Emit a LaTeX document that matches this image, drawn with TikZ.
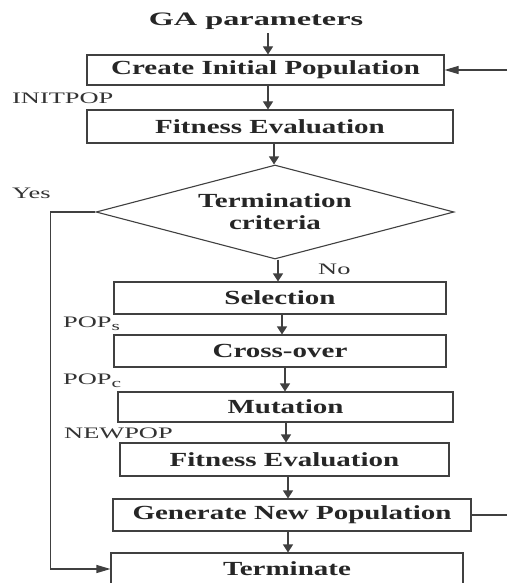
\documentclass[tikz,border=0pt]{standalone}
\usepackage{fontspec}
\setmainfont{Liberation Serif}
\newfontfamily\boxfont[FakeStretch=1.45]{Liberation Serif}
\newfontfamily\labfont[FakeStretch=1.65]{Liberation Serif}
\newfontfamily\gafont[FakeStretch=1.7]{Liberation Serif}
\usetikzlibrary{arrows.meta,shapes.geometric}
\newcommand{\subsc}[1]{\raisebox{-3pt}{\fontsize{13}{13}\selectfont #1}}
\begin{document}
\begin{tikzpicture}[x=1pt,y=-1pt,
  box/.style={draw=black!75, line width=1.1pt, rectangle, inner sep=0pt,
    font=\boxfont\bfseries\fontsize{20}{22}\selectfont, text=black!85},
  lab/.style={font=\labfont\fontsize{16}{18}\selectfont, text=black!80,
    inner sep=0pt, anchor=base west},
  conn/.style={draw=black!75, line width=1.1pt},
  varr/.style={conn, -{Triangle[length=8pt,width=10pt]}},
  harr/.style={conn, -{Triangle[length=14pt,width=8pt]}}]
\clip (0,0) rectangle (507,583);
\fill[white] (0,0) rectangle (507,583);
% title
\node[font=\gafont\bfseries\fontsize{19}{21}\selectfont, text=black!85,
  inner sep=0pt, anchor=base] (ga) at (256,26) {GA parameters};
% boxes
\node[box, minimum width=357pt, minimum height=30pt] (create) at (265.5,70) {Create Initial Population};
\node[box, minimum width=366pt, minimum height=33pt] (fit1) at (270,126.5) {Fitness Evaluation};
\node[box, diamond, aspect=3.8, minimum width=358pt, minimum height=94pt, align=center] (crit) at (275,212) {Termination\\criteria};
\node[box, minimum width=332pt, minimum height=32pt] (sel) at (280,298) {Selection};
\node[box, minimum width=332pt, minimum height=32pt] (cross) at (280,351) {Cross-over};
\node[box, minimum width=335pt, minimum height=30pt] (mut) at (285.5,407) {Mutation};
\node[box, minimum width=329pt, minimum height=33pt] (fit2) at (284.5,459.5) {Fitness Evaluation};
\node[box, minimum width=358pt, minimum height=32pt] (gen) at (292,515) {Generate New Population};
\node[box, minimum width=352pt, minimum height=32pt] (term) at (287,569) {Terminate};
% labels
\node[lab] (initpop) at (12,103.5) {INITPOP};
\node[lab] (yes) at (12,198) {Yes};
\node[lab] (no) at (318,274) {No};
\node[lab] (pops) at (63,327) {POP\subsc{s}};
\node[lab] (popc) at (63,384) {POP\subsc{c}};
\node[lab] (newpop) at (64,438) {NEWPOP};
% free ends
\coordinate (rin) at (507,70);
\coordinate (rout) at (507,515);
% connectors
\draw[varr] ([xshift=12pt,yshift=-3pt]ga.south) -- ([xshift=2.5pt]create.north);
\draw[varr] ([xshift=2.5pt]create.south) -- ([xshift=-2pt]fit1.north);
\draw[varr] ([xshift=4pt]fit1.south) -- ([xshift=-1pt]crit.north);
\draw[varr] ([xshift=3pt]crit.south) -- ([xshift=-2pt]sel.north);
\draw[varr] ([xshift=2pt]sel.south) -- ([xshift=2pt]cross.north);
\draw[varr] ([xshift=5pt]cross.south) -- ([xshift=-0.5pt]mut.north);
\draw[varr] ([xshift=0.5pt]mut.south) -- ([xshift=1.5pt]fit2.north);
\draw[varr] ([xshift=3.5pt]fit2.south) -- ([xshift=-4pt]gen.north);
\draw[varr] ([xshift=-4pt]gen.south) -- ([xshift=1pt]term.north);
\draw[harr] (rin) -- (create.east);
\draw[conn] (gen.east) -- (rout);
\draw[harr] (crit.west) -- ++(-45,0) |- (term.west);
\end{tikzpicture}
\end{document}
